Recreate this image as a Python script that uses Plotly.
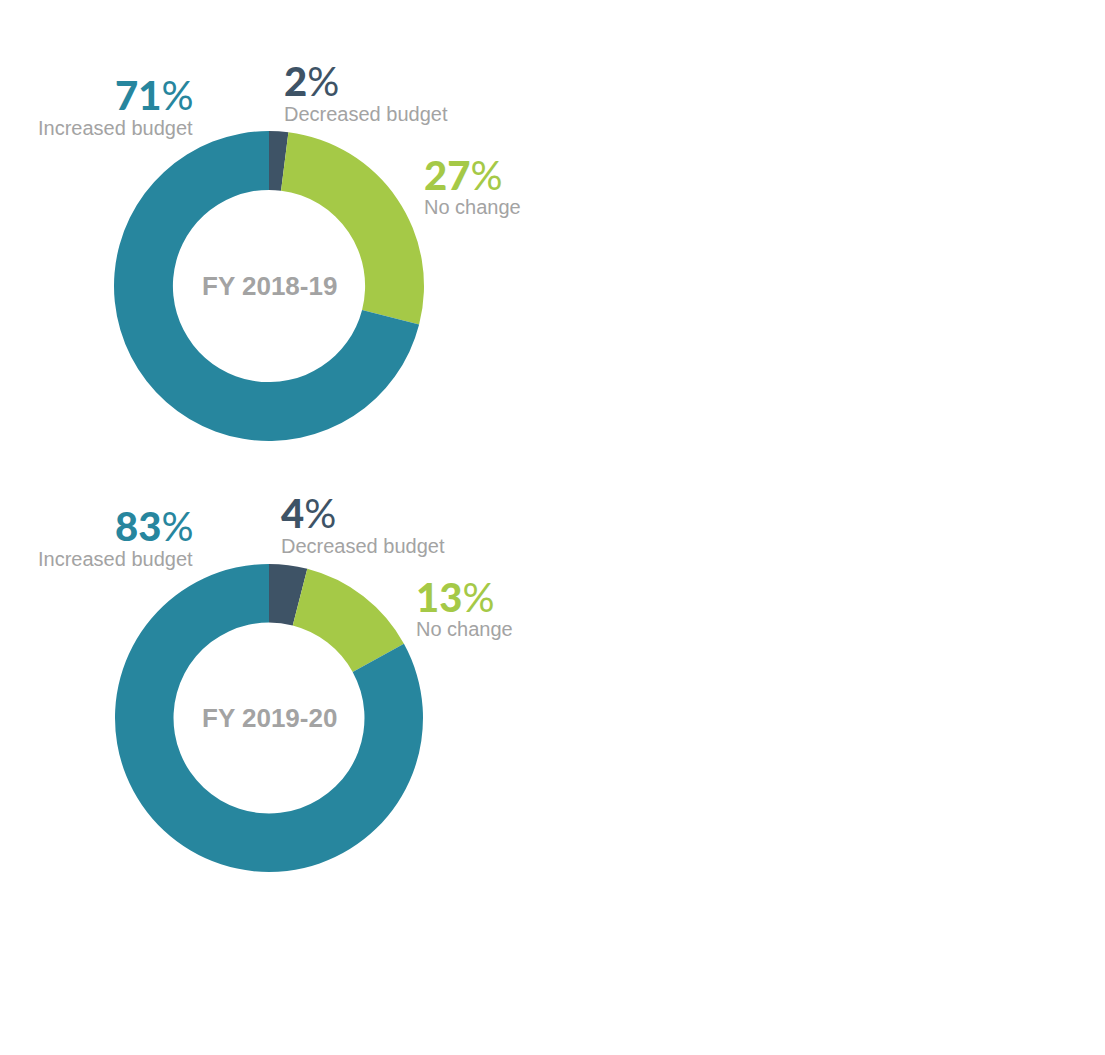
import plotly.graph_objects as go

W, H = 1105, 1055
OFF = 8  # page body margin in the browser

categories = ["Decreased budget", "No change", "Increased budget"]
fy1819_values = [2, 27, 71]
fy1920_values = [4, 13, 83]
years = ["FY 2018-19", "FY 2019-20"]
colors = ["#3E5366", "#A5C947", "#27869E"]

GRAY = "#A3A3A3"


def px(x, y):
    return (x - OFF) / W, 1 - (y - OFF) / H


fig = go.Figure()

charts = [
    (fy1819_values, years[0], (269, 286), 155),
    (fy1920_values, years[1], (269, 718), 154),
]

for vals, yr, (cx, cy), r in charts:
    x0, y1 = px(cx - r, cy - r)
    x1, y0 = px(cx + r, cy + r)
    fig.add_trace(go.Pie(
        labels=categories, values=vals, sort=False, direction="clockwise",
        rotation=0, hole=0.62, textinfo="none", hoverinfo="label+percent",
        marker=dict(colors=colors, line=dict(width=0)),
        domain=dict(x=[x0, x1], y=[y0, y1]), showlegend=False,
    ))
    ax, ay = px(cx, cy)
    fig.add_annotation(text=yr, x=ax, y=ay, xref="paper", yref="paper",
                       showarrow=False, xanchor="center", yanchor="middle",
                       font=dict(family="Liberation Sans, Arial", size=26, color=GRAY, weight="bold"))

# label positions (pixels): (x edge, y of number center, y of label center, anchor)
label_pos = [
    [(282, 81, 114, "left"), (422, 175, 207, "left"), (195, 95, 128, "right")],
    [(279, 513, 546, "left"), (414, 597, 629, "left"), (195, 526, 559, "right")],
]

for (vals, yr, c, r), poss in zip(charts, label_pos):
    for cat, v, col, (lx, ny, ly, anc) in zip(categories, vals, colors, poss):
        nx, nyp = px(lx, ny)
        fig.add_annotation(
            text=f"<span style='font-weight:900'>{v}</span><span style='font-weight:400'>%</span>",
            x=nx, y=nyp, xref="paper", yref="paper", showarrow=False,
            xanchor=anc, yanchor="middle",
            font=dict(family="Lato, Open Sans", size=40, color=col))
        lxp, lyp = px(lx, ly)
        fig.add_annotation(
            text=cat, x=lxp, y=lyp, xref="paper", yref="paper", showarrow=False,
            xanchor=anc, yanchor="middle",
            font=dict(family="Liberation Sans, Arial", size=20, color=GRAY))

fig.update_layout(width=W, height=H, margin=dict(l=0, r=0, t=0, b=0),
                  paper_bgcolor="white", plot_bgcolor="white")

fig.write_html("out.html")
